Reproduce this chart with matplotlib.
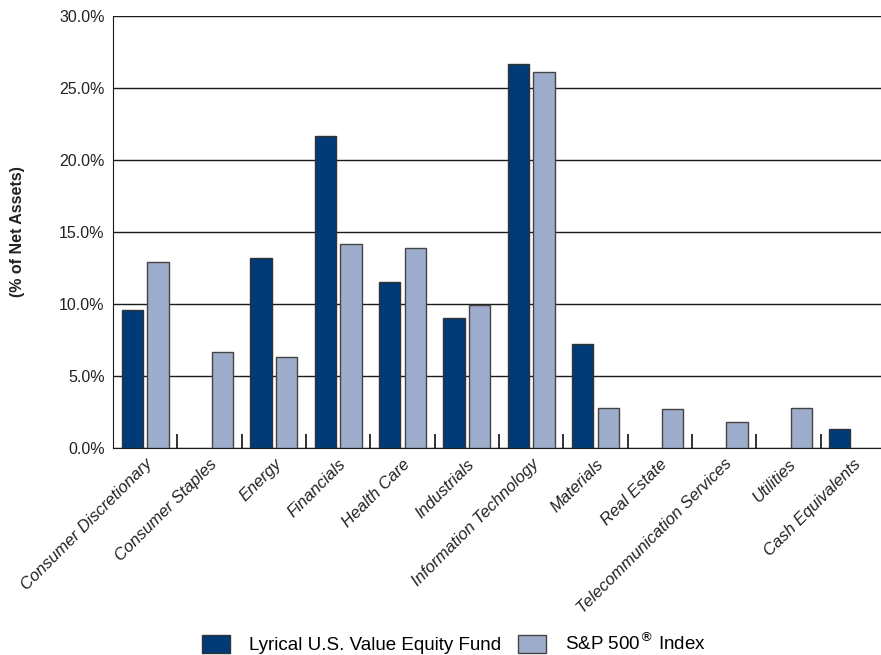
import numpy as np
import matplotlib
matplotlib.use('Agg')
import matplotlib.pyplot as plt
from matplotlib.ticker import FuncFormatter, FixedLocator

plt.rcParams['font.family'] = ['Liberation Sans Narrow', 'Liberation Sans', 'DejaVu Sans']

sectors = ['Consumer Discretionary', 'Consumer Staples', 'Energy', 'Financials',
           'Health Care', 'Industrials', 'Information Technology', 'Materials',
           'Real Estate', 'Telecommunication Services', 'Utilities', 'Cash Equivalents']
fund = [9.6, 0.0, 13.2, 21.7, 11.5, 9.0, 26.7, 7.2, 0.0, 0.0, 0.0, 1.3]
index = [12.9, 6.7, 6.3, 14.2, 13.9, 9.9, 26.1, 2.8, 2.7, 1.8, 2.8, 0.0]
labels = ['Lyrical U.S. Value Equity Fund', 'S&P 500$^{\u00ae}$ Index']

fund_color = '#003B78'
index_color = '#9EADCB'

fig = plt.figure(figsize=(8.81, 6.55), dpi=100)
ax = fig.add_axes([113 / 881, 1 - 448 / 655, 1 - 113 / 881, (448 - 16) / 655])

x = np.arange(len(sectors))
w = 0.33
off = 0.2
# zero values -> no bar drawn
fund_h = [v if v > 0 else np.nan for v in fund]
index_h = [v if v > 0 else np.nan for v in index]
b1 = ax.bar(x - off, fund_h, w, color=fund_color, edgecolor='#333333', linewidth=1, zorder=3)
b2 = ax.bar(x + off, index_h, w, color=index_color, edgecolor='#444444', linewidth=1, zorder=3)

ax.set_ylim(0, 30)
ax.set_xlim(-0.5, 11.44)
ax.set_yticks(np.arange(0, 30.1, 5))
ax.yaxis.set_major_formatter(FuncFormatter(lambda v, p: '%.1f%%' % v))
ax.grid(axis='y', color='#1a1a1a', linewidth=1, zorder=0)
ax.set_axisbelow(True)
for s in ['top', 'right']:
    ax.spines[s].set_visible(False)
ax.spines['left'].set_color('#1a1a1a')
ax.spines['bottom'].set_color('#1a1a1a')
ax.tick_params(axis='y', length=0, pad=6, labelsize=11.5, labelcolor='#222222')

ax.set_xticks(x)
ax.set_xticklabels(sectors, rotation=45, ha='right', rotation_mode='anchor',
                   fontsize=12, style='italic', color='#222222')
ax.tick_params(axis='x', which='major', length=0, pad=6)
ax.xaxis.set_minor_locator(FixedLocator(np.arange(0.5, 11, 1)))
ax.tick_params(axis='x', which='minor', direction='in', length=10, width=1.3, color='#222222')

fig.text(18 / 881, 1 - 232 / 655, '(% of Net Assets)', rotation=90, ha='center', va='center',
         fontsize=11.5, fontweight='bold', color='#222222')

fig.legend(handles=[b1, b2], labels=labels, loc='center', bbox_to_anchor=(454 / 881, 1 - 643 / 655),
           ncol=2, frameon=False, fontsize=13.5, handlelength=1.5, handleheight=1.1,
           columnspacing=0.9, handletextpad=1.0)

fig.savefig('out.png', dpi=100)
